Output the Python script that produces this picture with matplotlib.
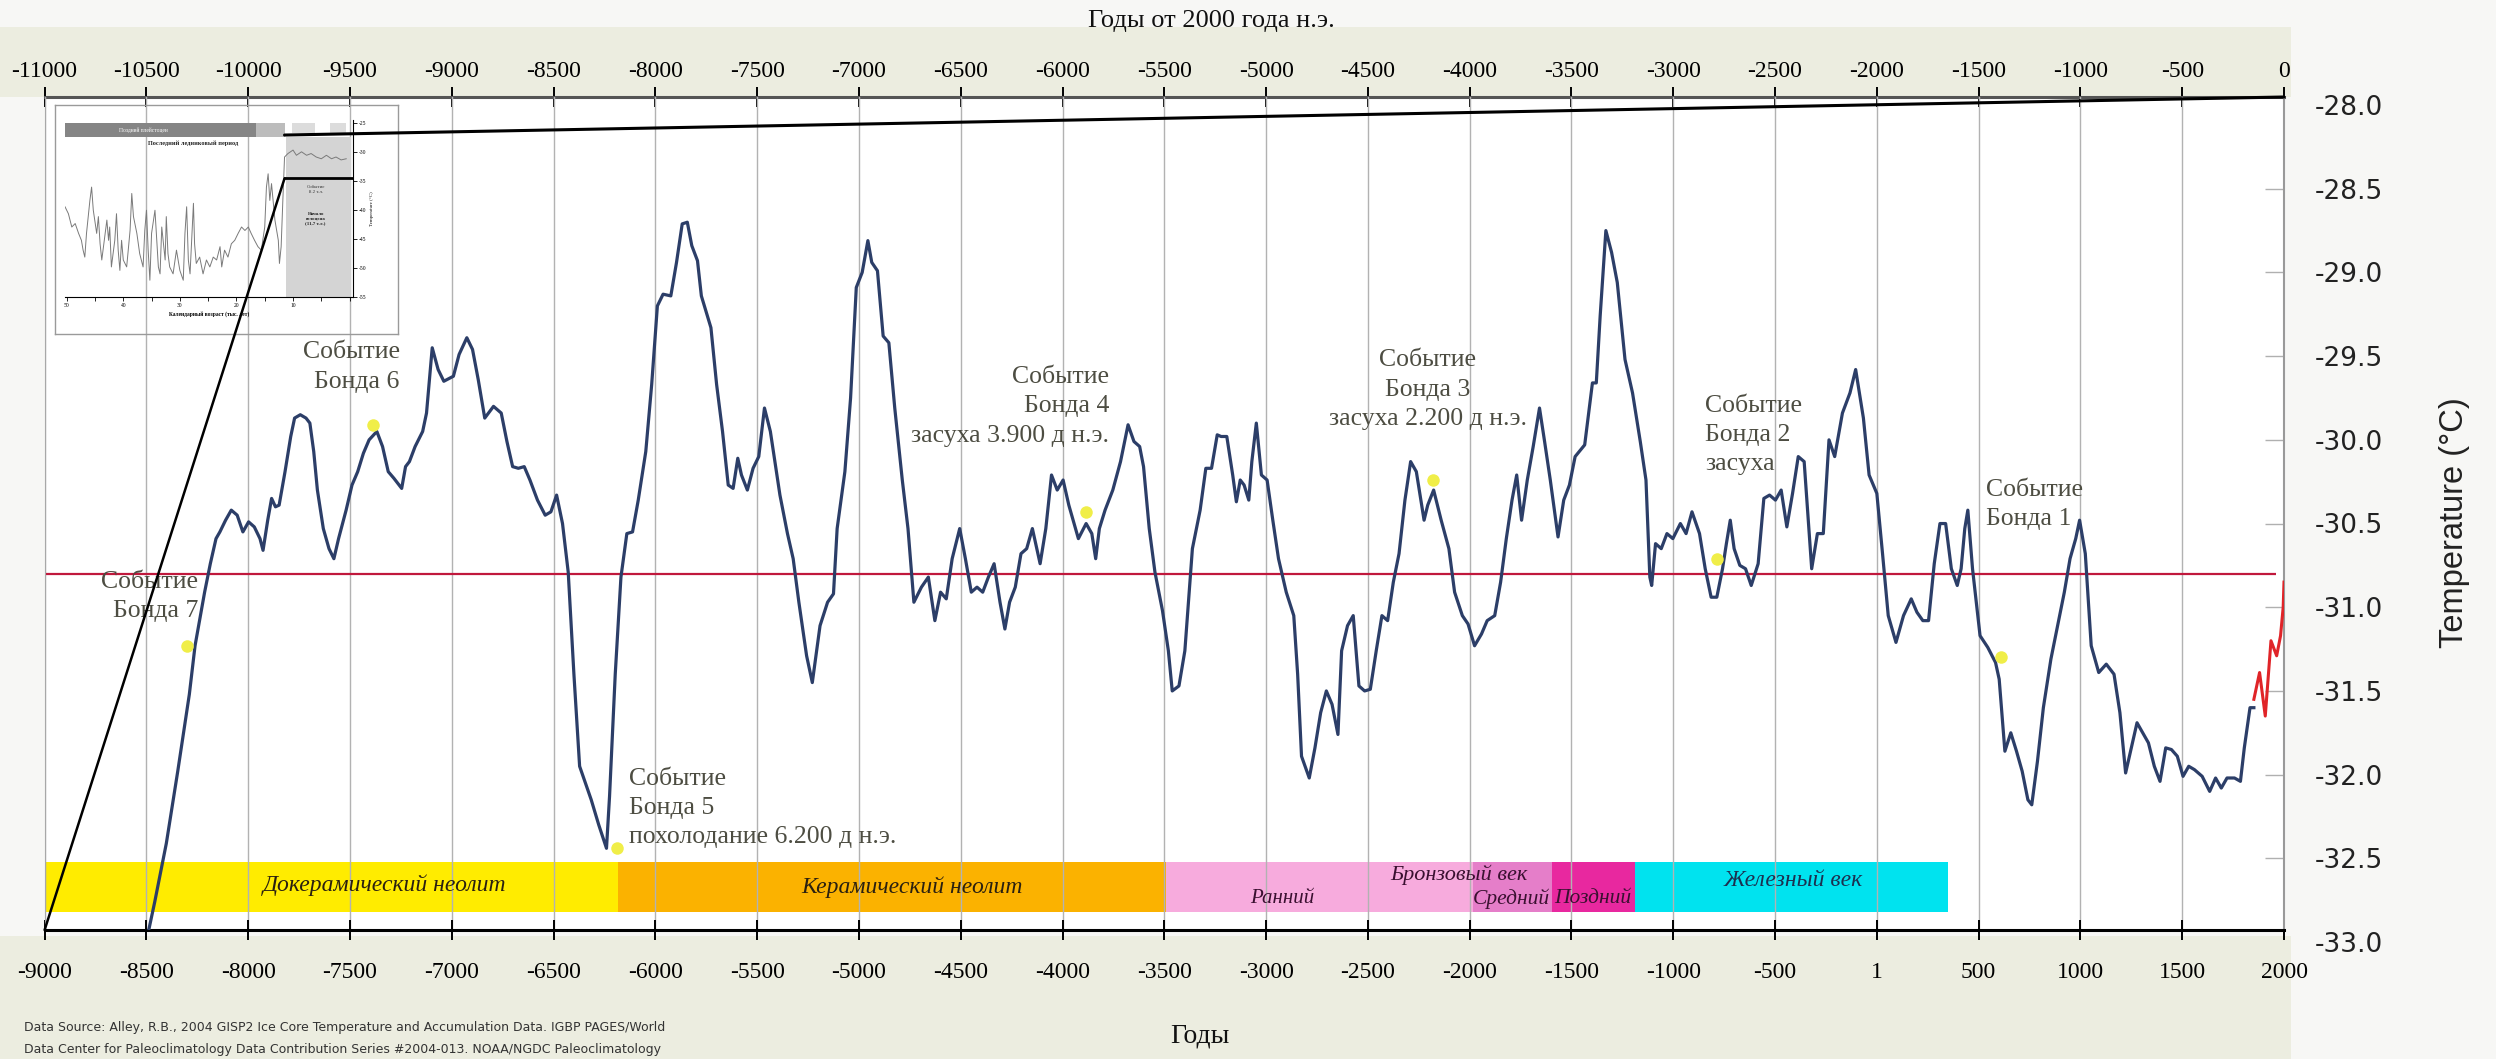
import numpy as np
import matplotlib.pyplot as plt
from matplotlib.patches import Rectangle, ConnectionPatch
from matplotlib import font_manager

plt.rcParams['axes.unicode_minus'] = False
plt.rcParams['font.family'] = ['Liberation Serif', 'DejaVu Serif']

installed = {f.name for f in font_manager.fontManager.ttflist}
narrow = 'Liberation Sans Narrow' in installed

# GISP2 temperature, years on the bottom scale
years = [-8487, -8459, -8402, -8346, -8289, -8261, -8214, -8186, -8158, -8139,
         -8111, -8083, -8054, -8026, -7998, -7970, -7942, -7927, -7904, -7885,
         -7866, -7848, -7819, -7791, -7772, -7744, -7716, -7697, -7678, -7660,
         -7631, -7603, -7579, -7556, -7519, -7490, -7462, -7434, -7406, -7368,
         -7340, -7312, -7284, -7246, -7227, -7208, -7180, -7143, -7124, -7096,
         -7067, -7039, -6992, -6964, -6926, -6898, -6870, -6838, -6795, -6757,
         -6729, -6701, -6673, -6644, -6616, -6579, -6541, -6513, -6485, -6456,
         -6428, -6400, -6372, -6315, -6278, -6240,
         -6225, -6197, -6169, -6140, -6112, -6084, -6047, -6018, -5990, -5962,
         -5924, -5896, -5868, -5843, -5821, -5793, -5774, -5727, -5699, -5670,
         -5642, -5618, -5595, -5577, -5548, -5520, -5492, -5464, -5435, -5388,
         -5351, -5323, -5295, -5257, -5229, -5191, -5154, -5125, -5107, -5069,
         -5041, -5013, -4984, -4956, -4937, -4909, -4881, -4853, -4824, -4787,
         -4759, -4730, -4693, -4659, -4627, -4599, -4571, -4542, -4505, -4477,
         -4448, -4420, -4392, -4364, -4336, -4307, -4283, -4260, -4232, -4204,
         -4176, -4148, -4110, -4082, -4054, -4026, -3997, -3969, -3922, -3884,
         -3856, -3837, -3819, -3791, -3753, -3715, -3678, -3649, -3621, -3602,
         -3574, -3546, -3509, -3480, -3461,
         -3428, -3399, -3362, -3324, -3296, -3268, -3240, -3221, -3193, -3164,
         -3146, -3127, -3108, -3085, -3070, -3048, -3023, -2995, -2967, -2939,
         -2901, -2864, -2845, -2826, -2788, -2760, -2732, -2704, -2676, -2647,
         -2629, -2600, -2572, -2544, -2516, -2488, -2459, -2431, -2403, -2375,
         -2347, -2318, -2290, -2262, -2224, -2206, -2177, -2140, -2102, -2074,
         -2036, -2008, -1976, -1942, -1914, -1877, -1848, -1820, -1792, -1769,
         -1745, -1717, -1688, -1657, -1632, -1604, -1566, -1538, -1510, -1482,
         -1435, -1397, -1378, -1359, -1331, -1303, -1275, -1237, -1200, -1162,
         -1134, -1115, -1106, -1087, -1059, -1031, -1002, -965, -937, -908,
         -871, -843, -814, -786, -758, -739, -720, -701, -673, -645, -617,
         -583, -555, -527, -498, -470, -442, -414, -386, -357, -320,
         -292, -263, -235, -207, -169, -132, -104, -66, -38, 0,
         28, 56, 94, 131, 169, 197, 226, 254, 282, 310,
         338, 366, 395, 414, 432, 447, 470, 507, 545, 583,
         601, 629, 658, 686, 714, 742, 761, 789, 818, 855,
         893, 921, 949, 977, 996, 1024, 1053, 1090, 1127, 1165,
         1194, 1222, 1250, 1278, 1306, 1334, 1363, 1391, 1419, 1447,
         1476, 1504, 1532, 1560, 1598, 1635, 1664, 1692, 1720, 1757,
         1786, 1805, 1833, 1852]
temps = [-32.92, -32.76, -32.41, -31.98, -31.52, -31.23, -30.91, -30.74, -30.59, -30.55,
         -30.48, -30.42, -30.45, -30.55, -30.49, -30.52, -30.59, -30.66, -30.48, -30.35,
         -30.40, -30.39, -30.19, -29.98, -29.87, -29.85, -29.87, -29.90, -30.07, -30.30,
         -30.53, -30.65, -30.71, -30.59, -30.42, -30.27, -30.19, -30.08, -30.00, -29.95,
         -30.04, -30.19, -30.23, -30.29, -30.16, -30.13, -30.04, -29.95, -29.84, -29.45,
         -29.58, -29.65, -29.62, -29.49, -29.39, -29.46, -29.64, -29.87, -29.80, -29.84,
         -30.01, -30.16, -30.17, -30.16, -30.24, -30.36, -30.45, -30.43, -30.33, -30.50,
         -30.79, -31.40, -31.95, -32.15, -32.30, -32.44,
         -32.13, -31.40, -30.82, -30.56, -30.55, -30.36, -30.07, -29.67, -29.20, -29.13,
         -29.14, -28.94, -28.71, -28.70, -28.84, -28.93, -29.14, -29.33, -29.67, -29.95,
         -30.27, -30.29, -30.11, -30.21, -30.30, -30.17, -30.10, -29.81, -29.95, -30.33,
         -30.56, -30.71, -30.97, -31.29, -31.45, -31.11, -30.97, -30.92, -30.53, -30.19,
         -29.75, -29.09, -29.00, -28.81, -28.94, -28.99, -29.38, -29.42, -29.81, -30.24,
         -30.53, -30.97, -30.88, -30.82, -31.08, -30.91, -30.95, -30.71, -30.53, -30.71,
         -30.91, -30.88, -30.91, -30.82, -30.74, -30.97, -31.13, -30.97, -30.88, -30.68,
         -30.65, -30.53, -30.74, -30.53, -30.21, -30.30, -30.24, -30.39, -30.59, -30.50,
         -30.56, -30.71, -30.53, -30.42, -30.30, -30.13, -29.91, -30.01, -30.04, -30.16,
         -30.53, -30.79, -31.02, -31.26, -31.50,
         -31.47, -31.26, -30.65, -30.42, -30.17, -30.17, -29.97, -29.98, -29.98, -30.21,
         -30.37, -30.24, -30.27, -30.36, -30.13, -29.90, -30.21, -30.24, -30.48, -30.71,
         -30.91, -31.05, -31.40, -31.89, -32.02, -31.84, -31.63, -31.50, -31.58, -31.76,
         -31.26, -31.11, -31.05, -31.47, -31.50, -31.49, -31.26, -31.05, -31.08, -30.85,
         -30.68, -30.36, -30.13, -30.19, -30.48, -30.39, -30.30, -30.48, -30.65, -30.91,
         -31.05, -31.10, -31.23, -31.16, -31.08, -31.05, -30.85, -30.59, -30.36, -30.21,
         -30.48, -30.24, -30.04, -29.81, -30.01, -30.24, -30.58, -30.36, -30.27, -30.10,
         -30.03, -29.66, -29.66, -29.26, -28.75, -28.88, -29.06, -29.52, -29.72, -30.01,
         -30.24, -30.82, -30.87, -30.62, -30.65, -30.56, -30.59, -30.50, -30.56, -30.43,
         -30.56, -30.77, -30.94, -30.94, -30.77, -30.62, -30.48, -30.65, -30.75, -30.77, -30.87,
         -30.74, -30.35, -30.33, -30.36, -30.30, -30.52, -30.32, -30.10, -30.13, -30.77,
         -30.56, -30.56, -30.00, -30.10, -29.84, -29.72, -29.58, -29.87, -30.21, -30.32,
         -30.68, -31.05, -31.21, -31.05, -30.95, -31.03, -31.08, -31.08, -30.74, -30.50,
         -30.50, -30.77, -30.87, -30.77, -30.53, -30.42, -30.77, -31.17, -31.24, -31.33,
         -31.43, -31.86, -31.75, -31.86, -31.98, -32.15, -32.18, -31.92, -31.60, -31.31,
         -31.08, -30.91, -30.71, -30.59, -30.48, -30.68, -31.23, -31.39, -31.34, -31.40,
         -31.63, -31.99, -31.84, -31.69, -31.75, -31.81, -31.95, -32.04, -31.84, -31.85,
         -31.89, -32.01, -31.95, -31.97, -32.01, -32.10, -32.02, -32.08, -32.02, -32.02,
         -32.04, -31.84, -31.60, -31.60]

# recent warming segment (red)
modern_years = [1852, 1880, 1908, 1936, 1964, 1983, 1996, 2000]
modern_temps = [-31.55, -31.39, -31.65, -31.20, -31.29, -31.17, -31.00, -30.85]

mean_temp = -30.80
mean_end = 1960

# Bond events
bond_years = [-8299, -7387, -6190, -3884, -2181, -786, 611]
bond_temps = [-31.23, -29.91, -32.44, -30.43, -30.24, -30.71, -31.30]
bond_labels = ['Событие\nБонда 7', 'Событие\nБонда 6',
               'Событие\nБонда 5\nпохолодание 6.200 д н.э.',
               'Событие\nБонда 4\nзасуха 3.900 д н.э.',
               'Событие\nБонда 3\nзасуха 2.200 д н.э.',
               'Событие\nБонда 2\nзасуха', 'Событие\nБонда 1']
bond_text_x = [-8245, -7255, -6131, -3772, -2206, -845, 535]
bond_text_y = [-30.935, -29.565, -32.20, -29.80, -29.70, -29.97, -30.385]
bond_text_ha = ['right', 'right', 'left', 'right', 'center', 'left', 'left']

# archaeological periods
period_start = [-9000, -6185, -3490, -1985, -1595, -1190]
period_end = [-6185, -3490, -1985, -1595, -1190, 350]
period_colors = ['#ffec00', '#fbb200', '#f7abdd', '#e57ec9', '#e8289f', '#00e3ef']
period_names = ['Докерамический неолит', 'Керамический неолит', 'Ранний',
                'Бронзовый век', 'Средний', 'Поздний', 'Железный век']
period_name_x = [-7331, -4740, -2920, -2055, -1796, -1397, -410]
period_name_y = [-32.66, -32.67, -32.74, -32.60, -32.74, -32.74, -32.63]
period_name_size = [17, 17, 15, 16, 15.5, 15.5, 17]
period_name_color = ['#2a2010', '#2a2010', '#3a1030', '#3a1030', '#3a1030', '#3a1030', '#1c3050']
bar_lo, bar_hi = -32.82, -32.52

bottom_ticks = list(range(-9000, 2001, 500))
bottom_labels = ['1' if t == 0 else str(t) for t in bottom_ticks]
top_ticks = list(range(-11000, 1, 500))
right_ticks = [-33.0, -32.5, -32.0, -31.5, -31.0, -30.5, -30.0, -29.5, -29.0, -28.5, -28.0]

# inset: 50 000 year GISP2 record
inset_ky = [50.3, 49.7, 49.1, 48.5, 47.9, 47.4, 47.1, 46.8, 46.5, 45.9,
            45.6, 45.3, 44.7, 44.4, 44.1, 43.8, 43.5, 42.9, 42.6, 42.4,
            42.1, 41.5, 41.2, 40.9, 40.6, 40.3, 40.0, 39.4, 38.8, 38.5,
            38.2, 37.6, 37.1, 36.5, 36.2, 35.9, 35.6, 35.3, 35.0, 34.4,
            33.8, 33.5, 33.2, 32.6, 32.4, 32.1, 31.8, 31.2, 30.6, 30.0,
            29.4, 29.1, 28.8, 28.5, 28.2, 27.6, 27.4, 27.1, 26.5, 25.9,
            25.3, 24.7, 24.1, 23.5, 22.9, 22.6, 22.1, 21.5, 20.9, 20.3,
            19.7, 19.1, 18.5, 17.9, 17.4, 16.8, 16.2, 15.6, 15.0, 14.7,
            14.4, 14.1, 13.8, 13.2, 12.6, 12.4, 12.1, 11.8, 11.5, 10.9,
            10.0, 9.4, 8.5, 7.6, 6.8, 5.9, 5.0, 4.1, 3.2, 2.4,
            1.5, 0.6]
inset_temp = [-39.4, -40.6, -42.9, -42.3, -44.0, -45.2, -46.9, -48.1, -44.0, -38.3,
              -36.0, -40.0, -44.0, -41.1, -45.8, -48.6, -46.3, -41.7, -45.2, -42.9,
              -49.8, -45.2, -40.6, -46.9, -50.4, -45.2, -48.6, -49.8, -43.5, -37.1,
              -41.1, -44.0, -47.5, -49.8, -43.5, -40.0, -46.9, -52.1, -44.0, -40.0,
              -49.8, -51.0, -42.9, -48.6, -41.1, -47.5, -49.8, -51.0, -46.9, -50.4,
              -52.1, -44.0, -39.4, -48.6, -51.0, -38.8, -45.8, -49.2, -48.1, -51.0,
              -48.6, -49.8, -48.1, -48.6, -46.3, -49.8, -46.9, -48.1, -45.8, -45.2,
              -44.0, -42.9, -43.5, -42.9, -44.0, -45.2, -46.3, -46.9, -42.9, -36.0,
              -33.7, -38.3, -35.4, -41.7, -45.2, -49.2, -46.3, -38.3, -30.8, -30.2,
              -29.6, -30.5, -29.9, -30.5, -30.2, -30.8, -31.1, -30.5, -31.1, -30.8,
              -31.3, -31.1]
holo_ky = 11.5
zoom_top_T, zoom_bot_T = -27.0, -34.5

W, H = 2496, 1059
fig = plt.figure(figsize=(W / 100, H / 100), dpi=100, facecolor='#f7f7f5')
fig.patches.append(Rectangle((0, 1 - 97 / H), 2291 / W, 70 / H, transform=fig.transFigure,
                             facecolor='#ecede0', edgecolor='none', zorder=-1))
fig.patches.append(Rectangle((0, 0), 2291 / W, 1 - 936 / H, transform=fig.transFigure,
                             facecolor='#ecede0', edgecolor='none', zorder=-1))

ax = fig.add_axes([44.6 / W, 1 - 930 / H, (2284 - 44.6) / W, 833 / H])
ax.set_facecolor('white')
ax.set_xlim(-9000, 2000)
ax.set_ylim(-32.928, -27.952)

for s, e, c in zip(period_start, period_end, period_colors):
    ax.barh((bar_lo + bar_hi) / 2, e - s, left=s, height=bar_hi - bar_lo,
            color=c, linewidth=0, zorder=1)
for name, x, y, fs, c in zip(period_names, period_name_x, period_name_y,
                             period_name_size, period_name_color):
    ax.text(x, y, name, ha='center', va='center', fontsize=fs, style='italic',
            color=c, zorder=5)

ax.plot(years, temps, color='#2c3e68', lw=2.3, zorder=3)
ax.plot(modern_years, modern_temps, color='#e02428', lw=2.2, zorder=3)
ax.hlines(mean_temp, -9000, mean_end, color='#c0183c', lw=1.6, zorder=2.5)
ax.plot(bond_years, bond_temps, 'o', color='#f0ee48', ms=9, mec='none', zorder=4)

for lab_txt, x, y, ha in zip(bond_labels, bond_text_x, bond_text_y, bond_text_ha):
    ax.text(x, y, lab_txt, ha=ha, va='center', multialignment=ha, fontsize=18.5,
            linespacing=1.42, color='#4d4d42', zorder=5)

tick_family = 'Liberation Sans Narrow' if narrow else 'Liberation Serif'
tick_size = 17.5 if narrow else 17

ax.set_xticks(bottom_ticks)
ax.set_xticklabels(bottom_labels)
ax.grid(axis='x', color='#b2b2b2', lw=1.0)
ax.tick_params(axis='x', direction='inout', length=14, width=1.4, color='black',
               pad=16, labelsize=tick_size, labelfontfamily=tick_family)
ax.yaxis.tick_right()
ax.set_yticks([t for t in right_ticks if -32.9 < t < -28.2])
ax.tick_params(axis='y', direction='in', length=14, width=1, color='#b0b0b0',
               labelright=False)
ax.spines['top'].set_visible(False)
ax.spines['bottom'].set_linewidth(2.2)
ax.spines['left'].set_color('#a8a8a8')
ax.spines['right'].set_color('#999999')
ax.spines['right'].set_linewidth(1.5)

top = ax.secondary_xaxis('top', functions=(lambda x: x - 2000, lambda x: x + 2000))
top.set_xticks(top_ticks)
top.set_xticklabels([str(t) for t in top_ticks])
top.tick_params(direction='inout', length=14, width=1.4, color='black', pad=4,
                labelsize=tick_size, labelfontfamily=tick_family)
top.spines['top'].set_color('#555555')
top.spines['top'].set_linewidth(2.2)

# temperature labels sit on their own scale
lab = fig.add_axes([44.6 / W, 1 - 942 / H, (2284 - 44.6) / W, 837 / H])
lab.patch.set_visible(False)
for sp in lab.spines.values():
    sp.set_visible(False)
lab.set_xticks([])
lab.set_ylim(-33, -28)
lab.yaxis.tick_right()
lab.set_yticks(right_ticks)
lab.set_yticklabels([f'{t:.1f}' for t in right_ticks])
lab.tick_params(axis='y', length=0, pad=22, labelsize=19, labelcolor='#222222',
                labelfontfamily='DejaVu Sans')

fig.text(1211 / W, 1 - 21 / H, 'Годы от 2000 года н.э.', ha='center', va='center',
         fontsize=19, color='#111111')
fig.text(1200 / W, 1 - 1036 / H, 'Годы', ha='center', va='center', fontsize=20,
         color='#111111')
if narrow:
    fig.text(2454 / W, 1 - 523 / H, 'Temperature (°C)', rotation=90, ha='center',
             va='center', fontsize=27, family='Liberation Sans Narrow', color='#222222')
else:
    fig.text(2454 / W, 1 - 523 / H, 'Temperature (°C)', rotation=90, ha='center',
             va='center', fontsize=23.5, family='Liberation Sans', color='#222222')
fig.text(24 / W, 1 - 1028 / H,
         'Data Source: Alley, R.B., 2004 GISP2 Ice Core Temperature and Accumulation Data. IGBP PAGES/World',
         ha='left', va='center', fontsize=9, family='DejaVu Sans', color='#333333')
fig.text(24 / W, 1 - 1050 / H,
         'Data Center for Paleoclimatology Data Contribution Series #2004-013. NOAA/NGDC Paleoclimatology',
         ha='left', va='center', fontsize=9, family='DejaVu Sans', color='#333333')

# inset
box = fig.add_axes([55 / W, 1 - 334 / H, 343 / W, 229 / H])
box.set_facecolor('none')
box.set_xticks([])
box.set_yticks([])
for sp in box.spines.values():
    sp.set_color('#9a9a9a')
    sp.set_linewidth(1)

ins = fig.add_axes([65 / W, 1 - 297 / H, 288 / W, 177 / H])
ins.set_facecolor('none')
ins.set_xlim(50.3, -0.6)
ins.set_ylim(-55, -24.4)
ins.add_patch(Rectangle((16.5, -27.3), 33.8, 2.4, facecolor='#858585', edgecolor='none'))
ins.add_patch(Rectangle((11.5, -27.3), 5.0, 2.4, facecolor='#bcbcbc', edgecolor='none'))
ins.add_patch(Rectangle((-0.3, -55), 11.6, 27.7, facecolor='#d4d4d4', edgecolor='none'))
ins.add_patch(Rectangle((6.1, -26.7), 4.1, 1.8, facecolor='#dcdcdc', edgecolor='none'))
ins.add_patch(Rectangle((0.6, -26.7), 2.9, 1.8, facecolor='#dcdcdc', edgecolor='none'))
ins.plot(inset_ky, inset_temp, color='#7a7a7a', lw=0.7)
ins.plot([holo_ky, -0.6], [zoom_bot_T, zoom_bot_T], color='black', lw=2)
ins.text(36.5, -26.1, 'Поздний плейстоцен', fontsize=4, color='white',
         ha='center', va='center')
ins.text(27.6, -28.5, 'Последний ледниковый период', fontsize=4.5, weight='bold',
         ha='center', va='center', color='#222222')
ins.text(6.0, -36.4, 'Событие\n8.2 т.л.', fontsize=3.5, ha='center', va='center',
         color='#333333')
ins.text(6.0, -41.5, 'Начало\nголоцена\n(11,7 т.л.)', fontsize=3.5, weight='bold',
         ha='center', va='center', color='#222222')
for sp in ['left', 'top']:
    ins.spines[sp].set_visible(False)
ins.spines['right'].set_linewidth(0.8)
ins.spines['bottom'].set_linewidth(0.8)
ins.yaxis.tick_right()
ins.set_yticks([-25, -30, -35, -40, -45, -50, -55])
ins.set_xticks([50, 45, 40, 35, 30, 25, 20, 15, 10, 5, 0])
ins.set_xticklabels(['50', '', '40', '', '30', '', '20', '', '10', '', ''])
ins.tick_params(labelsize=4, length=3, width=0.6, pad=1.5)
ins.set_xlabel('Календарный возраст (тыс. лет)', fontsize=4, weight='bold', labelpad=2)
ins.yaxis.set_label_position('right')
ins.set_ylabel('Temperature (°C)', fontsize=3.5, labelpad=2)

# zoom connectors from the inset to the main chart
ylo, yhi = ax.get_ylim()
fig.add_artist(ConnectionPatch(xyA=(holo_ky, zoom_top_T), coordsA=ins.transData,
                               xyB=(2000, yhi), coordsB=ax.transData,
                               color='black', lw=2.2, zorder=10))
fig.add_artist(ConnectionPatch(xyA=(holo_ky, zoom_bot_T), coordsA=ins.transData,
                               xyB=(-9000, ylo), coordsB=ax.transData,
                               color='black', lw=1.8, zorder=10))

fig.savefig('out.png', dpi=100, facecolor=fig.get_facecolor())
